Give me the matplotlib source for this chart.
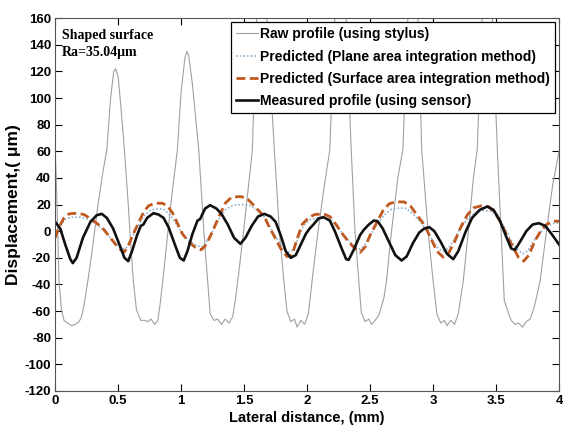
import matplotlib.pyplot as plt
import numpy as np
from matplotlib import font_manager

# raw stylus profile (x in mm, displacement in um)
raw_x = [0.0, 0.015, 0.03, 0.05, 0.07, 0.10, 0.13, 0.16, 0.19, 0.21, 0.23, 0.26, 0.30, 0.34, 0.38, 0.41,
         0.44, 0.465, 0.48, 0.50, 0.52, 0.55, 0.58, 0.60, 0.62, 0.645, 0.68, 0.71, 0.735, 0.76, 0.79, 0.815,
         0.83, 0.855, 0.89, 0.93, 0.97, 1.00, 1.03, 1.045, 1.06, 1.09, 1.14, 1.18, 1.21, 1.23, 1.26, 1.29,
         1.32, 1.35, 1.38, 1.41, 1.43, 1.45, 1.49, 1.53, 1.565, 1.60, 1.64, 1.68, 1.74, 1.78, 1.815, 1.84,
         1.87, 1.90, 1.92, 1.95, 1.98, 2.01, 2.04, 2.08, 2.13, 2.18, 2.22, 2.27, 2.31, 2.35, 2.38, 2.41,
         2.43, 2.46, 2.49, 2.51, 2.54, 2.57, 2.61, 2.63, 2.67, 2.72, 2.76, 2.80, 2.84, 2.88, 2.91, 2.96,
         3.00, 3.03, 3.06, 3.09, 3.11, 3.14, 3.17, 3.20, 3.24, 3.28, 3.32, 3.35, 3.39, 3.43, 3.47, 3.51,
         3.565, 3.60, 3.62, 3.65, 3.68, 3.71, 3.74, 3.77, 3.80, 3.82, 3.85, 3.90, 3.95, 4.0]
raw_y = [62, 20, -37, -59, -67, -69, -71, -70, -68, -64, -55, -37, -10, 20, 45, 61,
         100, 120, 122, 116, 95, 61, 20, -10, -37, -59, -67, -67, -68, -66, -70, -67,
         -57, -37, -5, 30, 61, 105, 130, 135, 132, 110, 61, 0, -37, -62, -67, -66,
         -70, -66, -69, -64, -52, -37, -5, 30, 61, 160, 185, 160, 61, 0, -37, -60,
         -68, -66, -72, -67, -70, -62, -37, -5, 30, 61, 160, 180, 160, 61, 0, -37,
         -61, -68, -66, -70, -67, -63, -50, -37, 0, 40, 61, 160, 185, 160, 61, 0,
         -37, -62, -69, -67, -71, -67, -70, -62, -37, 0, 40, 61, 160, 180, 160, 61,
         -52, -62, -67, -70, -69, -72, -68, -66, -58, -50, -37, 0, 35, 60]

# predicted, plane area integration
plane_x = [0.0, 0.04, 0.08, 0.13, 0.20, 0.26, 0.33, 0.38, 0.44, 0.49, 0.53, 0.56, 0.59, 0.63, 0.67, 0.71,
           0.76, 0.82, 0.87, 0.92, 0.97, 1.01, 1.06, 1.11, 1.16, 1.20, 1.25, 1.30, 1.35, 1.41, 1.48, 1.54,
           1.60, 1.65, 1.70, 1.75, 1.80, 1.85, 1.89, 1.93, 1.97, 2.02, 2.08, 2.14, 2.19, 2.24, 2.29, 2.34,
           2.38, 2.42, 2.46, 2.51, 2.56, 2.61, 2.67, 2.73, 2.79, 2.84, 2.89, 2.94, 2.99, 3.04, 3.08, 3.12,
           3.17, 3.22, 3.28, 3.34, 3.40, 3.46, 3.51, 3.56, 3.61, 3.66, 3.71, 3.75, 3.80, 3.86, 3.91, 3.96, 4.0]
plane_y = [-3, 4, 9, 10.5, 10.5, 9, 5, 1, -5, -10, -13, -13, -9, -1, 6, 12,
           16, 17, 16, 11, 4, -2, -7, -10, -12, -8, 0, 9, 16, 19.5, 20, 19.5,
           16, 12, 4, -4, -12, -16, -14, -5, 4, 8.5, 10, 10, 8, 3, -3, -8,
           -12, -13.5, -10, -2, 6, 12, 16.5, 17.5, 17, 13, 8, 2, -6, -13, -15, -13,
           -6, 3, 10, 14, 15.5, 15, 11, 4, -5, -13, -17, -15, -7, 0, 4, 6, 6]

# predicted, surface area integration
surf_x = [0.0, 0.03, 0.07, 0.11, 0.17, 0.23, 0.27, 0.33, 0.38, 0.43, 0.48, 0.52, 0.55, 0.58, 0.62, 0.66,
          0.70, 0.74, 0.79, 0.85, 0.89, 0.93, 0.97, 1.01, 1.06, 1.11, 1.16, 1.20, 1.25, 1.30, 1.35, 1.40,
          1.47, 1.52, 1.57, 1.62, 1.66, 1.70, 1.74, 1.79, 1.84, 1.88, 1.92, 1.96, 2.01, 2.06, 2.13, 2.18,
          2.23, 2.28, 2.33, 2.38, 2.42, 2.46, 2.50, 2.55, 2.60, 2.65, 2.70, 2.77, 2.82, 2.88, 2.93, 2.98,
          3.03, 3.08, 3.12, 3.17, 3.22, 3.27, 3.32, 3.38, 3.44, 3.49, 3.54, 3.59, 3.64, 3.68, 3.72, 3.76,
          3.81, 3.86, 3.90, 3.95, 4.0]
surf_y = [-5, 3, 10, 13, 13.5, 12.5, 10, 6, 2, -4, -10, -14, -15.5, -11, -2, 6,
          14, 19, 21, 21, 19, 14, 6, -2, -8, -12, -14, -10, 0, 11, 21, 25.5,
          26, 25, 20, 15, 11, 3, -4, -13, -19, -18, -6, 5, 10, 12.5, 13, 11,
          5, -2, -8, -13, -16, -12, -3, 6, 15, 20.5, 22, 22, 19, 11, 5, -5,
          -15, -19.5, -17, -8, 3, 12, 17.5, 19, 18.5, 14, 6, -4, -13, -20, -22.5, -18,
          -7, 1, 5, 7.5, 7.5]

# measured with sensor
meas_x = [0.0, 0.04, 0.08, 0.12, 0.14, 0.17, 0.22, 0.28, 0.33, 0.37, 0.41, 0.46, 0.51, 0.55, 0.58, 0.61,
          0.65, 0.68, 0.70, 0.73, 0.78, 0.82, 0.86, 0.90, 0.95, 0.99, 1.02, 1.05, 1.09, 1.13, 1.15, 1.19,
          1.23, 1.28, 1.32, 1.37, 1.42, 1.47, 1.51, 1.56, 1.61, 1.66, 1.71, 1.75, 1.79, 1.83, 1.87, 1.91,
          1.95, 1.99, 2.02, 2.05, 2.09, 2.13, 2.18, 2.22, 2.27, 2.31, 2.33, 2.37, 2.42, 2.45, 2.49, 2.53,
          2.56, 2.60, 2.65, 2.70, 2.75, 2.79, 2.84, 2.89, 2.93, 2.97, 3.01, 3.06, 3.11, 3.16, 3.20, 3.26,
          3.31, 3.37, 3.43, 3.48, 3.53, 3.58, 3.62, 3.65, 3.69, 3.74, 3.79, 3.84, 3.89, 3.94, 4.0]
meas_y = [7, 2, -10, -21, -24, -20, -5, 7, 12, 13, 10, 2, -10, -20, -22.5, -15,
          -3, 4, 5, 10, 13.5, 12.5, 10, 3, -10, -20, -22, -15, -2, 8, 9, 17,
          19.5, 17, 13, 5, -5, -9.5, -5, 4, 11, 13, 11, 7, -3, -15, -20, -18,
          -10, -2, 2, 5, 9.5, 10.5, 8, 0, -12, -21, -21.5, -14, -3, 1, 5, 8,
          7.5, 2, -8, -18, -22, -19, -9, -1, 2, 3, 0, -8, -17, -21, -15, 0,
          10, 16, 18.5, 16, 8, -4, -13, -14, -8, 0, 5, 6, 4, -2, -10]

plt.rcParams['axes.unicode_minus'] = False

# narrow bold sans if there is one, else plain Arial-like sans at a smaller size
installed = {f.name for f in font_manager.fontManager.ttflist}
if 'Liberation Sans Narrow' in installed:
    sans, scale = ['Liberation Sans Narrow', 'DejaVu Sans'], 1.2
else:
    sans, scale = ['Liberation Sans', 'DejaVu Sans'], 1.0

fig = plt.figure(figsize=(5.63, 4.32), dpi=100)
ax = fig.add_axes([0.098, 0.095, 0.895, 0.863])

ax.plot(raw_x, raw_y, color='#a0a0a0', lw=0.8, label='Raw profile (using stylus)')
ax.plot(plane_x, plane_y, color='#8fb3cf', lw=1.2, ls=(0, (1, 1.2)),
        label='Predicted (Plane area integration method)')
ax.plot(surf_x, surf_y, color='#c0581f', lw=2.0, ls=(0, (3.2, 1.6)),
        label='Predicted (Surface area integration method)')
ax.plot(meas_x, meas_y, color='#111111', lw=1.9, label='Measured profile (using sensor)')

ax.set_xlim(0, 4)
ax.set_ylim(-120, 160)
ax.set_xticks(np.arange(0, 4.01, 0.5))
ax.set_xticklabels(['0', '0.5', '1', '1.5', '2', '2.5', '3', '3.5', '4'])
ax.set_yticks(np.arange(-120, 161, 20))
ax.tick_params(direction='in', top=True, right=True, length=5, width=0.8, pad=3)
for lab in ax.get_xticklabels() + ax.get_yticklabels():
    lab.set_family(sans)
    lab.set_fontweight('bold')
    lab.set_fontsize(9.5 * scale)
for spine in ax.spines.values():
    spine.set_color('#555555')
    spine.set_linewidth(0.8)

ax.set_xlabel('Lateral distance, (mm)', family=sans, fontweight='bold', fontsize=10.5 * scale, labelpad=3)
ax.set_ylabel('Displacement,( μm)', family=['Liberation Sans', 'DejaVu Sans'], fontweight='bold',
              fontsize=12.5)
ax.yaxis.set_label_coords(-0.068, 0.5)

ax.text(0.014, 0.97, 'Shaped surface\nRa=35.04μm', transform=ax.transAxes, va='top', ha='left',
        family=['Liberation Serif', 'DejaVu Serif'], fontweight='bold', fontsize=10, linespacing=1.4)

leg = ax.legend(loc='upper right', prop={'family': sans, 'weight': 'bold', 'size': 10 * scale},
                handlelength=1.6, handletextpad=0.15, labelspacing=0.6, borderpad=0.35,
                borderaxespad=0.3, fancybox=False, framealpha=1)
leg.get_frame().set_edgecolor('black')
leg.get_frame().set_linewidth(0.9)

fig.savefig('out.png', dpi=100)
